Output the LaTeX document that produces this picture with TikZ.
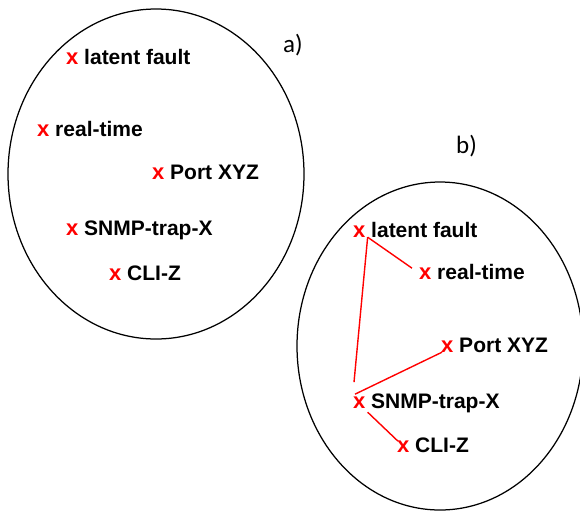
\documentclass[tikz,border=0pt]{standalone}
\usepackage{fontspec}
\setmainfont{Liberation Sans}
\newfontfamily\capfont{Carlito}
\begin{document}
\begin{tikzpicture}[x=1pt,y=-1pt,
  xmark/.style={inner sep=0pt, anchor=base west, text=red,
    font=\fontsize{22}{24}\selectfont\bfseries},
  term/.style={inner sep=0pt, anchor=base west, xshift=5.4pt,
    font=\fontsize{21}{24}\selectfont\bfseries},
  setlabel/.style={inner sep=0pt, anchor=base west,
    font=\capfont\fontsize{25}{28}\selectfont},
  setline/.style={draw=black, line width=1.25pt},
  link/.style={draw=red, line width=1.4pt}]
\useasboundingbox (0,0) rectangle (580,512);
\clip (0,0) rectangle (580,512);

% set a): unrelated terms
\draw[setline] (156,174) ellipse [x radius=148, y radius=165];
\node[setlabel] (capa) at (283,52) {a)};
\node[xmark] (alfx) at (66,64) {x};
\node[term] (alf) at (alfx.base east) {latent fault};
\node[xmark] (artx) at (37,136) {x};
\node[term] (art) at (artx.base east) {real-time};
\node[xmark] (apxx) at (152,179) {x};
\node[term] (apx) at (apxx.base east) {Port XYZ};
\node[xmark] (asnx) at (66,235) {x};
\node[term] (asn) at (asnx.base east) {SNMP-trap-X};
\node[xmark] (aclx) at (109,280) {x};
\node[term] (acl) at (aclx.base east) {CLI-Z};

% set b): the same terms, linked
\draw[setline] (440,346) ellipse [x radius=143, y radius=164];
\node[setlabel] (capb) at (456,153) {b)};
\node[xmark] (blfx) at (353,237) {x};
\node[term] (blf) at (blfx.base east) {latent fault};
\node[xmark] (brtx) at (419,279) {x};
\node[term] (brt) at (brtx.base east) {real-time};
\node[xmark] (bpxx) at (441,352) {x};
\node[term] (bpx) at (bpxx.base east) {Port XYZ};
\node[xmark] (bsnx) at (353,408) {x};
\node[term] (bsn) at (bsnx.base east) {SNMP-trap-X};
\node[xmark] (bclx) at (397,452) {x};
\node[term] (bcl) at (bclx.base east) {CLI-Z};

\draw[link] ([xshift=2pt]blfx.south east) -- ([xshift=-7pt,yshift=-1pt]brtx.north west);
\draw[link] ([xshift=2pt]blfx.south east) -- ([xshift=1pt,yshift=14pt]bsnx.north west);
\draw[link] ([xshift=2pt,yshift=2pt]bsnx.north west) -- ([xshift=1pt]bpxx.south west);
\draw[link] ([xshift=2pt,yshift=-4pt]bsnx.south east) -- ([xshift=1pt,yshift=-1pt]bclx.north west);
\end{tikzpicture}
\end{document}
